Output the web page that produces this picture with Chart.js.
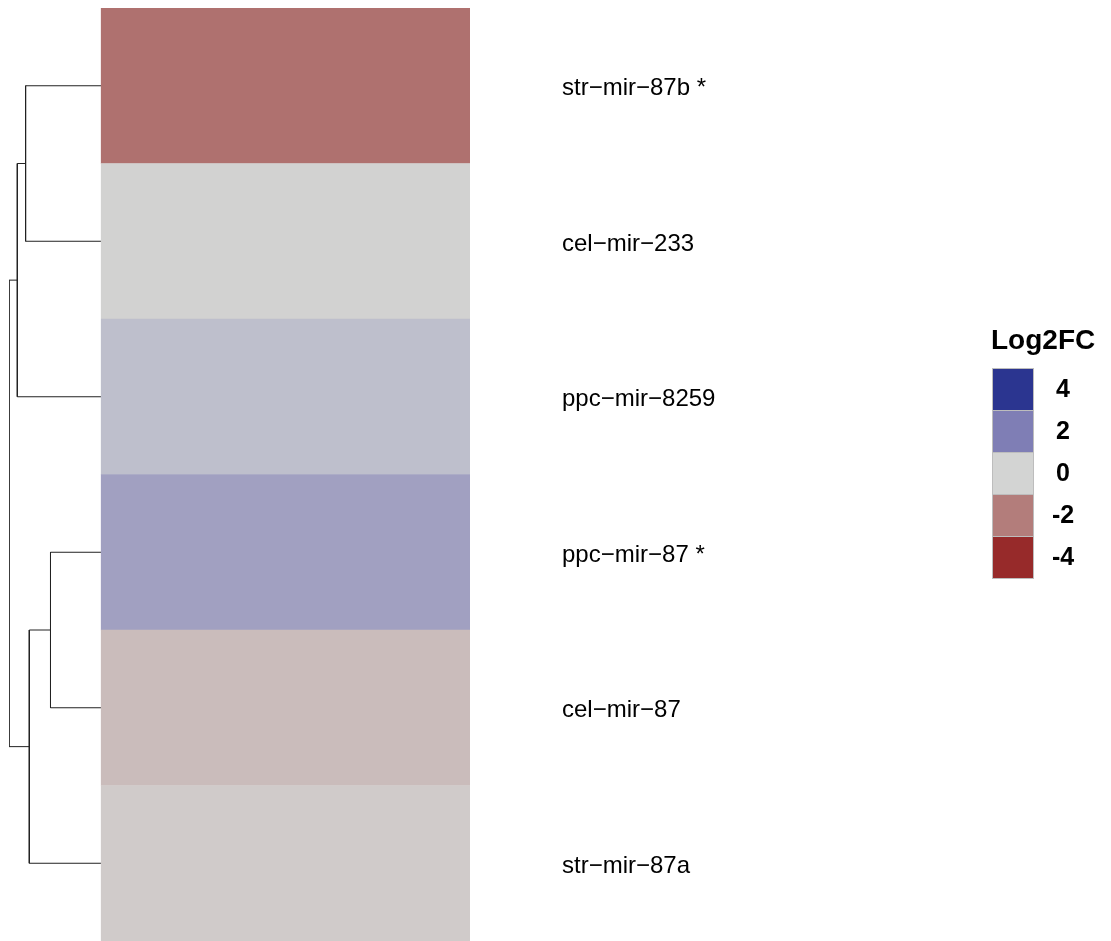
<!DOCTYPE html>
<html>
<head>
<meta charset="utf-8">
<script src="https://cdn.jsdelivr.net/npm/chart.js"></script>
<style>
html, body { margin: 0; padding: 0; background: #fff; }
#wrap { width: 1111px; height: 941px; }
</style>
</head>
<body>
<div id="wrap"><canvas id="heat"></canvas></div>
<script>
// rows top to bottom, same order as the dendrogram leaves
var mirnas = ["str−mir−87b *", "cel−mir−233", "ppc−mir−8259", "ppc−mir−87 *", "cel−mir−87", "str−mir−87a"];
var log2fc = [-2.3, -0.05, 0.5, 1.2, -0.55, -0.2];

// hclust style merges: negative = leaf (1 based row), positive = earlier merge
var mergeLeft = [-4, 1, -1, 3, 4];
var mergeRight = [-5, -6, -2, -3, 2];
var mergeHeight = [0.55, 0.78, 0.82, 0.91, 1.0];

// legend keys
var legendTitle = "Log2FC";
var legendBreaks = [4, 2, 0, -2, -4];

// colour ramp (red - grey - blue)
var rampVals = [-4, -2, 0, 2, 4];
var rampCols = [[151, 42, 42], [179, 125, 123], [211, 212, 211], [127, 126, 181], [43, 53, 144]];

function colorFor(v) {
  if (v <= rampVals[0]) return "rgb(" + rampCols[0].join(",") + ")";
  for (var i = 0; i < rampVals.length - 1; i++) {
    if (v <= rampVals[i + 1]) {
      var t = (v - rampVals[i]) / (rampVals[i + 1] - rampVals[i]);
      var c = rampCols[i].map(function (a, k) { return Math.round(a + (rampCols[i + 1][k] - a) * t); });
      return "rgb(" + c.join(",") + ")";
    }
  }
  return "rgb(" + rampCols[rampCols.length - 1].join(",") + ")";
}

var heatWidth = 4;   // heatmap spans 0..4 on x, dendrogram -1..0

// dendrogram: work out y of every merge, then one U shaped line per merge
var mergeY = [];
function nodeY(id) { return id < 0 ? (-id - 1) : mergeY[id - 1]; }
function nodeH(id) { return id < 0 ? 0 : mergeHeight[id - 1]; }
var dendroSets = [];
for (var m = 0; m < mergeHeight.length; m++) {
  var yl = nodeY(mergeLeft[m]), yr = nodeY(mergeRight[m]);
  mergeY.push((yl + yr) / 2);
  dendroSets.push({
    type: "line",
    xAxisID: "x",
    yAxisID: "yd",
    data: [
      { x: -nodeH(mergeLeft[m]), y: yl },
      { x: -mergeHeight[m], y: yl },
      { x: -mergeHeight[m], y: yr },
      { x: -nodeH(mergeRight[m]), y: yr }
    ],
    borderColor: "#222",
    borderWidth: 1,
    pointRadius: 0,
    tension: 0,
    fill: false
  });
}

var legendPlugin = {
  id: "log2fcLegend",
  afterDraw: function (chart) {
    var ctx = chart.ctx;
    var bx = 992, by = 368, bw = 41, bh = 42;
    ctx.save();
    ctx.fillStyle = "#000";
    ctx.font = "bold 28px 'Liberation Sans', Arial, sans-serif";
    ctx.textAlign = "left";
    ctx.textBaseline = "middle";
    ctx.fillText(legendTitle, 991, 341);
    ctx.font = "bold 25px 'Liberation Sans', Arial, sans-serif";
    ctx.textAlign = "center";
    legendBreaks.forEach(function (b, i) {
      ctx.fillStyle = colorFor(b);
      ctx.fillRect(bx, by + i * bh, bw, bh);
      ctx.strokeStyle = "#bdbdbd";
      ctx.lineWidth = 1;
      ctx.strokeRect(bx + 0.5, by + i * bh + 0.5, bw, bh);
      ctx.fillStyle = "#000";
      ctx.fillText(String(b), 1063, by + i * bh + bh / 2 + 1);
    });
    ctx.restore();
  }
};

var heatChart = new Chart("heat", {
  type: "bar",
  data: {
    labels: mirnas,
    datasets: [{
      indexAxis: "y",
      xAxisID: "x",
      yAxisID: "y",
      data: log2fc.map(function () { return [0, heatWidth]; }),
      backgroundColor: log2fc.map(colorFor),
      borderWidth: 0,
      barPercentage: 1,
      categoryPercentage: 1
    }].concat(dendroSets)
  },
  options: {
    responsive: true,
    maintainAspectRatio: false,
    animation: false,
    layout: { padding: { left: 9, top: 8, right: 0, bottom: 0 } },
    plugins: {
      legend: { display: false },
      tooltip: { enabled: false }
    },
    scales: {
      x: { type: "linear", min: -1, max: heatWidth, offset: false, display: false },
      y: {
        type: "category",
        position: "right",
        offset: true,
        grid: { display: false, drawTicks: false },
        border: { display: false },
        ticks: {
          padding: 92,
          labelOffset: 3,
          color: "#000",
          font: { family: "'Liberation Sans', Arial, sans-serif", size: 24 }
        },
        afterFit: function (scale) {
          scale.width = 641;
          scale.paddingTop = 0;
          scale.paddingBottom = 0;
        }
      },
      yd: { type: "linear", axis: "y", min: -0.5, max: mirnas.length - 0.5, reverse: true, offset: false, display: false }
    }
  },
  plugins: [legendPlugin]
});
</script>
</body>
</html>
